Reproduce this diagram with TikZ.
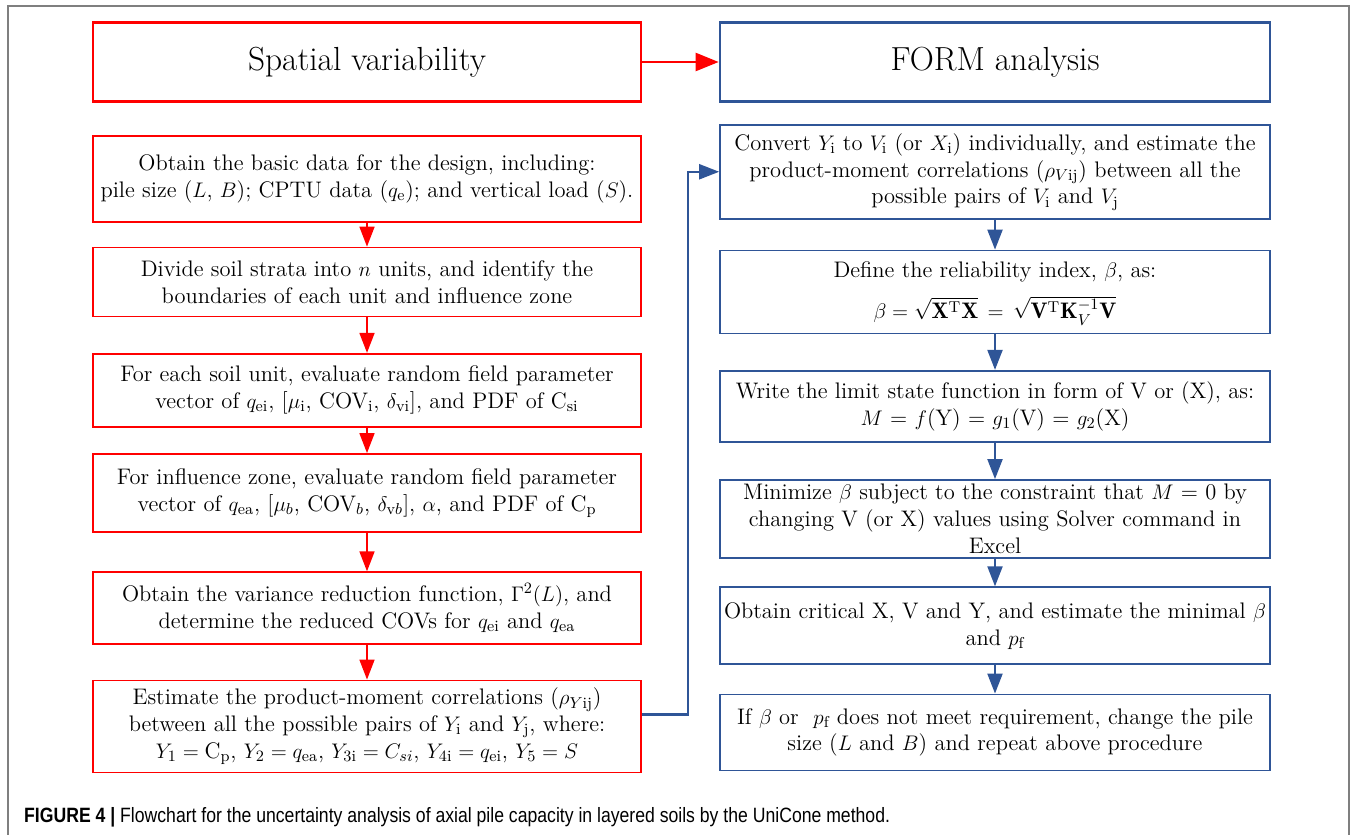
\documentclass[tikz,border=0pt]{standalone}
\usepackage{amsmath}
\usepackage{fontspec}
\newfontfamily\capfont{Liberation Sans}[FakeStretch=0.85]
\usetikzlibrary{positioning, arrows.meta}
\definecolor{SV_Red}{HTML}{FF0000}
\definecolor{FORM_Blue}{HTML}{2F5597}
\definecolor{Frame_Gray}{HTML}{7F7F7F}

\begin{document}
\begin{tikzpicture}[
  x=0.02cm, y=-0.02cm,
  every node/.style={font=\fontsize{12.8}{15.3}\selectfont},
  title/.style={draw, line width=1.6pt, minimum width=10.96cm,
    minimum height=1.58cm, font=\fontsize{19}{22}\selectfont},
  rbox/.style={draw=SV_Red, line width=1pt, minimum width=10.96cm,
    align=center, inner xsep=0pt, inner ysep=2pt},
  bbox/.style={draw=FORM_Blue, line width=1pt, minimum width=11cm,
    align=center, inner xsep=0pt, inner ysep=2pt},
  rarr/.style={-{Triangle[length=0.4cm, width=0.3cm]}, SV_Red, line width=1pt},
  barr/.style={-{Triangle[length=0.4cm, width=0.3cm]}, FORM_Blue, line width=1.2pt}
]
  \useasboundingbox (0,0) rectangle (1356,835);

  % Frame
  \draw[Frame_Gray, line width=0.6pt] (8,835) -- (8,6) -- (1349,6) -- (1349,835);

  % Titles
  \node[title, draw=SV_Red] (sv) at (367,62) {Spatial variability};
  \node[title, draw=FORM_Blue, minimum width=11cm] (form) at (995,62) {FORM analysis};

  % Spatial variability steps
  \node[rbox, minimum height=1.72cm, below=0.65cm of sv] (L1)
    {Obtain the basic data for the design, including:\\
     pile size ($L$, $B$); CPTU data ($q_{\mathrm{e}}$); and vertical load ($S$).};
  \node[rbox, minimum height=1.38cm, below=0.47cm of L1] (L2)
    {Divide soil strata into $n$ units, and identify the\\
     boundaries of each unit and influence zone};
  \node[rbox, minimum height=1.46cm, below=0.71cm of L2] (L3)
    {For each soil unit, evaluate random field parameter\\
     vector of $q_{\mathrm{ei}}$, [$\mu_{\mathrm{i}}$, COV$_{\mathrm{i}}$, $\delta_{\mathrm{vi}}$], and PDF of C$_{\mathrm{si}}$};
  \node[rbox, minimum height=1.56cm, below=0.51cm of L3] (L4)
    {For influence zone, evaluate random field parameter\\
     vector of $q_{\mathrm{ea}}$, [$\mu_b$, COV$_b$, $\delta_{\mathrm{v}b}$], $\alpha$, and PDF of C$_{\mathrm{p}}$};
  \node[rbox, minimum height=1.44cm, below=0.77cm of L4] (L5)
    {Obtain the variance reduction function, $\Gamma^2(L)$, and\\
     determine the reduced COVs for $q_{\mathrm{ei}}$ and $q_{\mathrm{ea}}$};
  \node[rbox, minimum height=1.84cm, below=0.69cm of L5] (L6)
    {Estimate the product-moment correlations ($\rho_{Y\mathrm{ij}}$)\\
     between all the possible pairs of $Y_{\mathrm{i}}$ and $Y_{\mathrm{j}}$, where:\\
     $Y_1 = \mathrm{C_p}$, $Y_2 = q_{\mathrm{ea}}$, $Y_{3\mathrm{i}} = C_{si}$, $Y_{4\mathrm{i}} = q_{\mathrm{ei}}$, $Y_5 = S$};

  % FORM steps
  \node[bbox, minimum height=1.88cm, below=0.42cm of form] (R1)
    {Convert $Y_{\mathrm{i}}$ to $V_{\mathrm{i}}$ (or $X_{\mathrm{i}}$) individually, and estimate the\\
     product-moment correlations ($\rho_{V\mathrm{ij}}$) between all the\\
     possible pairs of $V_{\mathrm{i}}$ and $V_{\mathrm{j}}$};
  \node[bbox, minimum height=1.66cm, below=0.6cm of R1] (R2)
    {Define the reliability index, $\beta$, as:\\[8pt]
     $\beta = \sqrt{\mathbf{X}^{\mathrm{T}}\mathbf{X}} \,=\, \sqrt{\mathbf{V}^{\mathrm{T}}\smash[b]{\mathbf{K}_V^{-1}}\mathbf{V}}$};
  \node[bbox, minimum height=1.42cm, below=0.71cm of R2] (R3)
    {Write the limit state function in form of V or (X), as:\\
     $M$ = $f$(Y) = $g_1$(V) = $g_2$(X)};
  \node[bbox, minimum height=1.56cm, below=0.73cm of R3] (R4)
    {Minimize $\beta$ subject to the constraint that $M$ = 0 by\\
     changing V (or X) values using Solver command in\\
     Excel};
  \node[bbox, minimum height=1.54cm, below=0.55cm of R4] (R5)
    {Obtain critical X, V and Y, and estimate the minimal $\beta$\\
     and $p_{\mathrm{f}}$};
  \node[bbox, minimum height=1.52cm, below=0.57cm of R5] (R6)
    {If $\beta$ or\ \ $p_{\mathrm{f}}$ does not meet requirement, change the pile\\
     size ($L$ and $B$) and repeat above procedure};

  % Arrows
  \draw[rarr, line width=1.4pt, -{Triangle[length=0.46cm, width=0.36cm]}] (sv) -- (form);
  \draw[rarr] (L1) -- (L2);
  \draw[rarr] (L2) -- (L3);
  \draw[rarr] (L3) -- (L4);
  \draw[rarr] (L4) -- (L5);
  \draw[rarr] (L5) -- (L6);
  \draw[barr] ([yshift=0.24cm]L6.east) -- ([xshift=0.92cm, yshift=0.24cm]L6.east) |- (R1.west);
  \draw[barr] (R1) -- (R2);
  \draw[barr] (R2) -- (R3);
  \draw[barr] (R3) -- (R4);
  \draw[barr] (R4) -- (R5);
  \draw[barr] (R5) -- (R6);

  % Caption
  \node[anchor=west, font=\capfont\fontsize{11.8}{14}\selectfont] (cap) at (18,817)
    {\textbf{FIGURE 4 |} Flowchart for the uncertainty analysis of axial pile capacity in layered soils by the UniCone method.};
\end{tikzpicture}
\end{document}
